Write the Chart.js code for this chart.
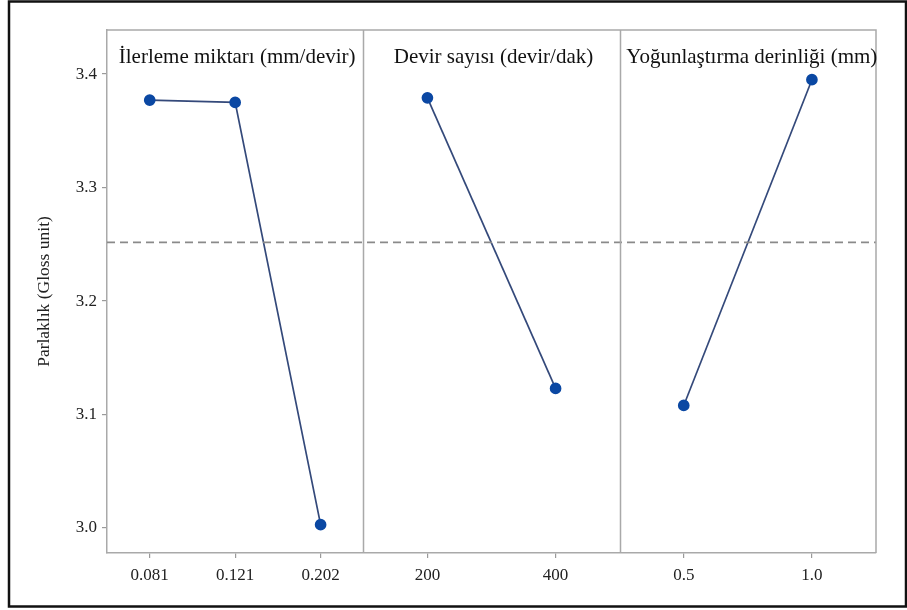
<!DOCTYPE html>
<html>
<head>
<meta charset="utf-8">
<script src="https://cdn.jsdelivr.net/npm/chart.js@4"></script>
<style>
  html, body { margin: 0; padding: 0; background: #fff; }
  #wrap { width: 907px; height: 610px; position: relative; }
</style>
</head>
<body>
<div id="wrap"><canvas id="c" width="907" height="610"></canvas></div>
<script>
// Main effects of each factor on gloss
const factorTitles = ['İlerleme miktarı (mm/devir)', 'Devir sayısı (devir/dak)', 'Yoğunlaştırma derinliği (mm)'];
const feedLevels = ['0.081', '0.121', '0.202'];
const feedMeans = [3.377, 3.375, 3.003];
const speedLevels = ['200', '400'];
const speedMeans = [3.379, 3.123];
const depthLevels = ['0.5', '1.0'];
const depthMeans = [3.108, 3.395];
const yTicks = [3.0, 3.1, 3.2, 3.3, 3.4];
const yTitle = 'Parlaklık (Gloss unit)';

const panels = [
  { levels: feedLevels, means: feedMeans },
  { levels: speedLevels, means: speedMeans },
  { levels: depthLevels, means: depthMeans }
];

// grand mean of all runs (every factor's level means average to it)
const grandMean = feedMeans.reduce((a, b) => a + b, 0) / feedMeans.length;

// each panel occupies one unit of the x scale; levels sit in the middle of equal slots
const xTicks = [];
const xLabels = {};
const datasets = panels.map((p, pi) => {
  const n = p.levels.length;
  const pts = p.means.map((m, k) => {
    const x = pi + (k + 0.5) / n;
    xTicks.push(x);
    xLabels[x.toFixed(4)] = p.levels[k];
    return { x: x, y: m };
  });
  return {
    data: pts,
    borderColor: '#34497a',
    borderWidth: 1.7,
    pointBackgroundColor: '#0b48a3',
    pointBorderColor: '#0b48a3',
    pointRadius: 5,
    pointStyle: 'circle',
    tension: 0
  };
});
datasets.unshift({
  data: [{ x: 0, y: grandMean }, { x: panels.length, y: grandMean }],
  borderColor: '#8a8a8a',
  borderWidth: 1.6,
  borderDash: [8, 5],
  pointRadius: 0
});

const SERIF = '"Liberation Serif", "Times New Roman", serif';

const panelFrame = {
  id: 'panelFrame',
  afterDatasetsDraw(chart) {
    const { ctx, chartArea: a, scales } = chart;
    ctx.save();
    ctx.strokeStyle = '#a9a9a9';
    ctx.lineWidth = 1.5;
    // top and right edges of the plot box
    ctx.beginPath();
    ctx.moveTo(a.left, a.top); ctx.lineTo(a.right, a.top); ctx.lineTo(a.right, a.bottom);
    ctx.stroke();
    // dividers between the factor panels
    for (let i = 1; i < panels.length; i++) {
      const x = Math.round(scales.x.getPixelForValue(i)) + 0.5;
      ctx.beginPath(); ctx.moveTo(x, a.top); ctx.lineTo(x, a.bottom); ctx.stroke();
    }
    // factor names
    ctx.fillStyle = '#111';
    ctx.font = '21px ' + SERIF;
    ctx.textAlign = 'center';
    ctx.textBaseline = 'alphabetic';
    factorTitles.forEach((t, i) => {
      const cx = (scales.x.getPixelForValue(i) + scales.x.getPixelForValue(i + 1)) / 2;
      ctx.fillText(t, cx + (i === 2 ? 4 : 2), a.top + 33);
    });
    ctx.restore();
  },
  afterDraw(chart) {
    const { ctx } = chart;
    ctx.save();
    ctx.strokeStyle = '#111';
    ctx.lineWidth = 2.5;
    ctx.strokeRect(9, 1.5, 897, 605);
    ctx.restore();
  }
};

new Chart(document.getElementById('c'), {
  type: 'line',
  data: { datasets },
  plugins: [panelFrame],
  options: {
    responsive: false,
    animation: false,
    layout: { padding: { left: 0, right: 31, top: 30, bottom: 0 } },
    plugins: { legend: { display: false }, tooltip: { enabled: false } },
    scales: {
      x: {
        type: 'linear',
        min: 0,
        max: panels.length,
        afterBuildTicks(scale) { scale.ticks = xTicks.map(v => ({ value: v })); },
        afterFit(scale) { scale.height = 57; },
        ticks: {
          autoSkip: false,
          maxRotation: 0,
          padding: 7,
          color: '#222',
          font: { family: SERIF, size: 17 },
          callback: v => xLabels[Number(v).toFixed(4)]
        },
        grid: { drawOnChartArea: false, drawTicks: true, tickLength: 5, color: '#9a9a9a', lineWidth: 1.2 },
        border: { display: true, color: '#a9a9a9', width: 1.5 }
      },
      y: {
        type: 'linear',
        min: 2.978,
        max: 3.4388,
        afterBuildTicks(scale) { scale.ticks = yTicks.map(v => ({ value: v })); },
        afterFit(scale) { scale.width = 107; },
        title: {
          display: true,
          text: yTitle,
          color: '#222',
          font: { family: SERIF, size: 17.5 },
          padding: { top: 34, bottom: 0 }
        },
        ticks: {
          padding: 5,
          color: '#222',
          font: { family: SERIF, size: 17 },
          callback: v => Number(v).toFixed(1)
        },
        grid: { drawOnChartArea: false, drawTicks: true, tickLength: 5, color: '#9a9a9a', lineWidth: 1.2 },
        border: { display: true, color: '#a9a9a9', width: 1.5 }
      }
    }
  }
});
</script>
</body>
</html>
